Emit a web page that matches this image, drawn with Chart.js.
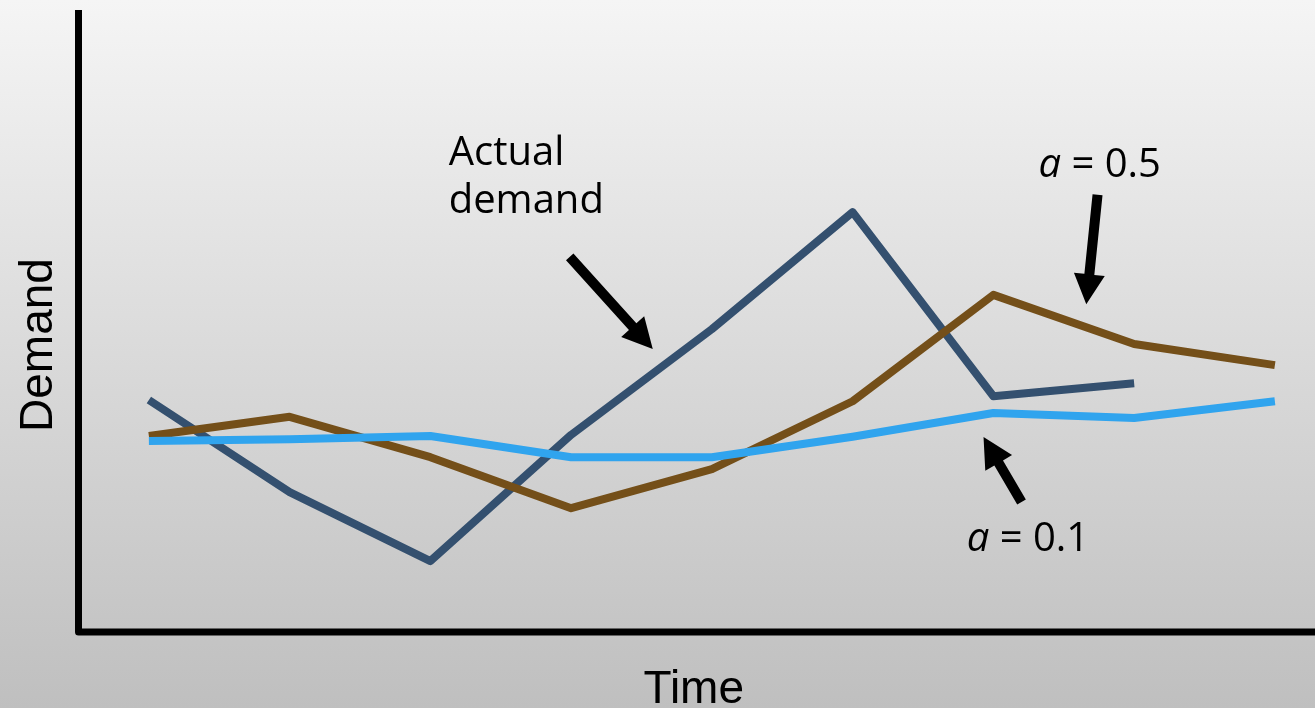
<!DOCTYPE html>
<html>
<head>
<meta charset="utf-8">
<script src="https://cdn.jsdelivr.net/npm/chart.js@4/dist/chart.umd.min.js"></script>
<style>
  html, body { margin: 0; padding: 0; }
  body {
    width: 1315px; height: 708px; overflow: hidden;
    background: linear-gradient(to bottom, #f5f5f5 0%, #bfbfbf 100%);
  }
  canvas { display: block; }
</style>
</head>
<body>
<canvas id="chart" width="1315" height="708"></canvas>
<script>
// Time periods on the horizontal axis
const periods = [1, 2, 3, 4, 5, 6, 7, 8, 9];

// Observed demand per period
const actualDemand = [37.3, 22.5, 11.4, 31.7, 48.7, 67.5, 37.9, 40.0];

// Exponential smoothing forecasts
const forecastAlpha05 = [31.5, 34.6, 28.1, 19.9, 26.2, 37.1, 54.2, 46.3, 42.9];
const forecastAlpha01 = [30.7, 31.0, 31.5, 28.1, 28.1, 31.4, 35.2, 34.4, 37.1];

// Callout texts and arrows, placed in data units (period, demand)
const calloutActual = { lines: ['Actual', 'demand'], x: 3.13, y: 75.1, lineStep: 7.7,
                        arrowFrom: [3.99, 60.3], arrowTo: [4.58, 45.5] };
const calloutAlpha05 = { symbol: 'a', rest: ' = 0.5', x: 7.32, y: 73.2,
                         arrowFrom: [7.74, 70.3], arrowTo: [7.66, 52.7] };
const calloutAlpha01 = { symbol: 'a', rest: ' = 0.1', x: 6.81, y: 13.0,
                         arrowFrom: [7.20, 20.9], arrowTo: [6.93, 31.35] };

const toPoints = (vals) => vals.map((v, i) => ({ x: periods[i], y: v }));

const annotationFont = '"Open Sans", "DejaVu Sans", sans-serif';
const axisFont = '"Liberation Sans", Arial, sans-serif';

function drawArrow(ctx, x1, y1, x2, y2) {
  const shaftW = 10, headW = 31, headL = 30;
  const dx = x2 - x1, dy = y2 - y1;
  const len = Math.hypot(dx, dy);
  const ux = dx / len, uy = dy / len;
  const nx = -uy, ny = ux;
  const bx = x2 - ux * headL, by = y2 - uy * headL;
  ctx.beginPath();
  ctx.moveTo(x1 + nx * shaftW / 2, y1 + ny * shaftW / 2);
  ctx.lineTo(bx + nx * shaftW / 2, by + ny * shaftW / 2);
  ctx.lineTo(bx + nx * headW / 2, by + ny * headW / 2);
  ctx.lineTo(x2, y2);
  ctx.lineTo(bx - nx * headW / 2, by - ny * headW / 2);
  ctx.lineTo(bx - nx * shaftW / 2, by - ny * shaftW / 2);
  ctx.lineTo(x1 - nx * shaftW / 2, y1 - ny * shaftW / 2);
  ctx.closePath();
  ctx.fillStyle = '#000';
  ctx.fill();
}

const decorations = {
  id: 'decorations',
  beforeDatasetsDraw(chart) {
    const { ctx, chartArea: a } = chart;
    ctx.save();
    // Axis lines
    ctx.strokeStyle = '#000';
    ctx.lineWidth = 7;
    ctx.lineJoin = 'round';
    ctx.lineCap = 'butt';
    ctx.beginPath();
    ctx.moveTo(a.left, a.top);
    ctx.lineTo(a.left, a.bottom);
    ctx.lineTo(chart.width + 10, a.bottom);
    ctx.stroke();

    // Axis titles
    ctx.fillStyle = '#000';
    ctx.font = '46px ' + axisFont;
    ctx.textAlign = 'center';
    ctx.textBaseline = 'alphabetic';
    ctx.fillText('Time', (a.left + chart.width) / 2 - 3, 703);
    ctx.save();
    ctx.translate(52, (a.top + a.bottom) / 2 + 24);
    ctx.rotate(-Math.PI / 2);
    ctx.fillText('Demand', 0, 0);
    ctx.restore();
    ctx.restore();
  },
  afterDatasetsDraw(chart) {
    const { ctx, scales: { x, y } } = chart;
    const px = (v) => x.getPixelForValue(v);
    const py = (v) => y.getPixelForValue(v);
    ctx.save();
    ctx.fillStyle = '#000';
    ctx.textAlign = 'left';
    ctx.textBaseline = 'alphabetic';

    // Actual demand label
    ctx.font = '40px ' + annotationFont;
    calloutActual.lines.forEach((t, i) => {
      ctx.fillText(t, px(calloutActual.x), py(calloutActual.y - i * calloutActual.lineStep));
    });
    drawArrow(ctx, px(calloutActual.arrowFrom[0]), py(calloutActual.arrowFrom[1]),
                   px(calloutActual.arrowTo[0]), py(calloutActual.arrowTo[1]));

    // Smoothing constant labels
    [calloutAlpha05, calloutAlpha01].forEach((c) => {
      const lx = px(c.x), ly = py(c.y);
      ctx.font = 'italic 40px ' + annotationFont;
      ctx.fillText(c.symbol, lx, ly);
      const w = ctx.measureText(c.symbol).width;
      ctx.font = '40px ' + annotationFont;
      ctx.fillText(c.rest, lx + w, ly);
      drawArrow(ctx, px(c.arrowFrom[0]), py(c.arrowFrom[1]), px(c.arrowTo[0]), py(c.arrowTo[1]));
    });
    ctx.restore();
  }
};

new Chart(document.getElementById('chart'), {
  type: 'line',
  data: {
    datasets: [
      {
        label: 'a = 0.1',
        data: toPoints(forecastAlpha01),
        borderColor: '#30a4ee',
        order: 0
      },
      {
        label: 'a = 0.5',
        data: toPoints(forecastAlpha05),
        borderColor: '#744f19',
        order: 1
      },
      {
        label: 'Actual demand',
        data: toPoints(actualDemand),
        borderColor: '#34506f',
        order: 2
      }
    ]
  },
  options: {
    responsive: false,
    animation: false,
    devicePixelRatio: 1,
    layout: { padding: { left: 78.5, top: 10, right: 0, bottom: 76 } },
    elements: {
      line: { borderWidth: 8, tension: 0, borderCapStyle: 'butt', borderJoinStyle: 'round', fill: false },
      point: { radius: 0, hoverRadius: 0 }
    },
    scales: {
      x: { type: 'linear', display: false, min: 0.5, max: 9.285 },
      y: { type: 'linear', display: false, min: 0, max: 100 }
    },
    plugins: {
      legend: { display: false },
      tooltip: { enabled: false }
    }
  },
  plugins: [decorations]
});
</script>
</body>
</html>
